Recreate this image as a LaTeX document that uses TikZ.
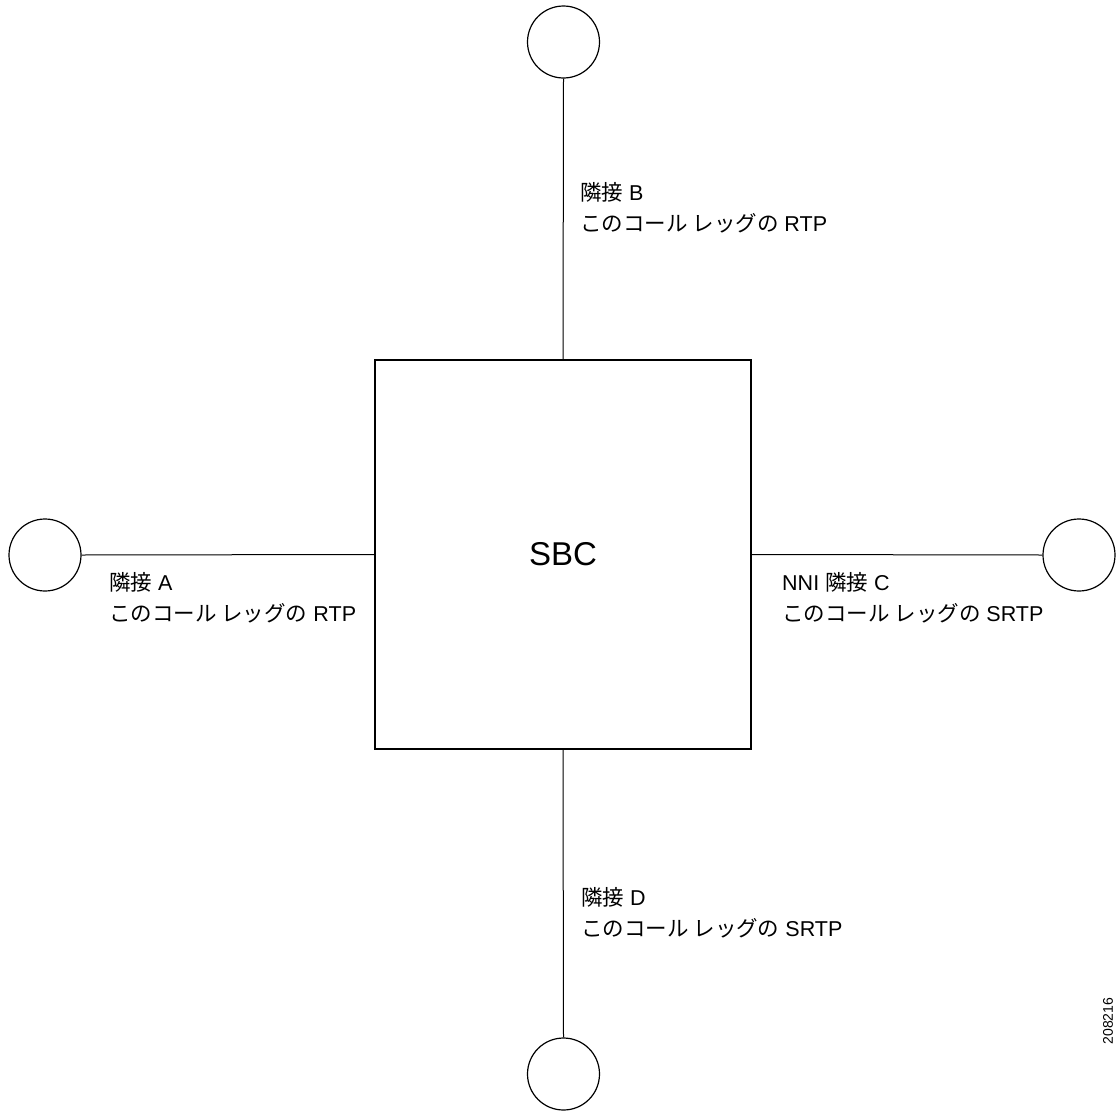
\documentclass[tikz,border=0pt]{standalone}
\usepackage{fontspec}
\setmainfont{Liberation Sans}
\newfontfamily\cjk{Noto Sans CJK JP}
\newcommand{\jp}[1]{{\cjk #1}}
\begin{document}
\begin{tikzpicture}[x=1pt,y=-1pt,
  endpoint/.style={draw=black, line width=1.2pt, circle, minimum size=72pt, inner sep=0pt},
  sbcbox/.style={draw=black, line width=1.5pt, rectangle, minimum width=376pt, minimum height=389pt, inner sep=0pt, font=\fontsize{33}{40}\selectfont},
  link/.style={draw=black, line width=1pt},
  lbl/.style={anchor=north west, align=left, inner sep=0pt, font=\fontsize{21.5}{31}\selectfont, text=black}]
\useasboundingbox (0,0) rectangle (1117,1111);
\node[sbcbox] (sbc) at (563,554.5) {SBC};
\node[endpoint] (cB) at (563.5,42) {};
\node[endpoint] (cA) at (45,555) {};
\node[endpoint] (cC) at (1079,555) {};
\node[endpoint] (cD) at (563.5,1074) {};
\draw[link] (cB.south) -- (sbc.north);
\draw[link] (cA.east) -- (sbc.west);
\draw[link] (sbc.east) -- (cC.west);
\draw[link] (sbc.south) -- (cD.north);
\node[lbl] (lB) at (580,182) {\jp{隣接} B\\\jp{このコール レッグの} RTP};
\node[lbl] (lA) at (109,572) {\jp{隣接} A\\\jp{このコール レッグの} RTP};
\node[lbl] (lC) at (782,572) {NNI \jp{隣接} C\\\jp{このコール レッグの} SRTP};
\node[lbl] (lD) at (581,887) {\jp{隣接} D\\\jp{このコール レッグの} SRTP};
\node[rotate=90, font=\fontsize{14}{16}\selectfont, inner sep=0pt] (fig) at (1108,1021) {208216};
\end{tikzpicture}
\end{document}
